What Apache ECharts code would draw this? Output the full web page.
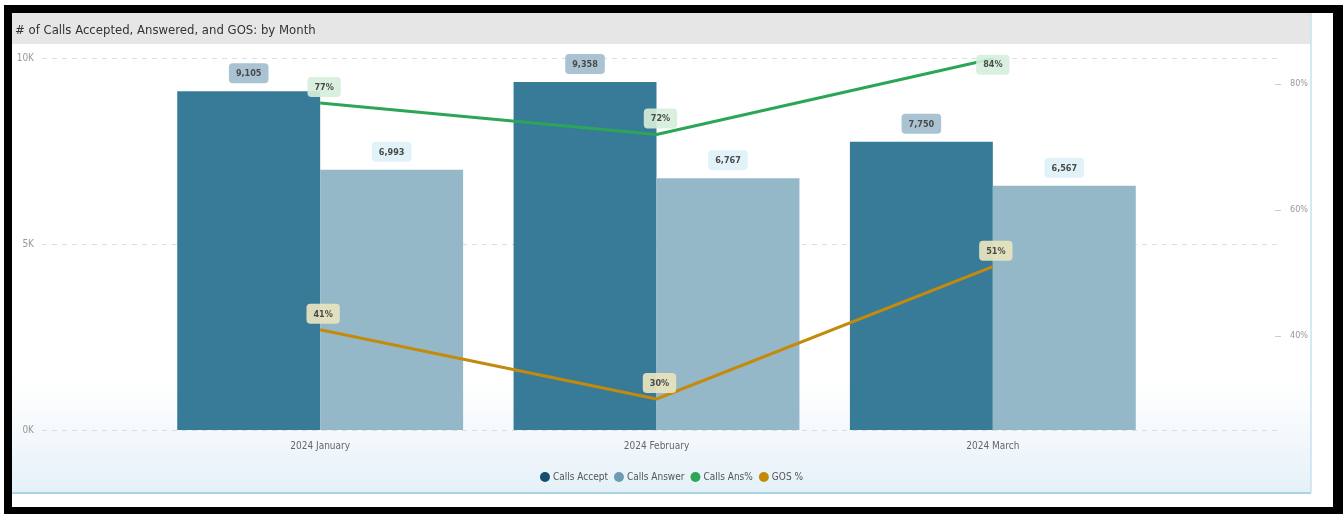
<!DOCTYPE html>
<html>
<head>
<meta charset="utf-8">
<script src="https://cdn.jsdelivr.net/npm/echarts@6/dist/echarts.min.js"></script>
<style>
html,body{margin:0;padding:0;background:#fff;}
#chart{width:1343px;height:514px;}
</style>
</head>
<body>
<div id="chart"></div>
<script>
const months = ['2024 January', '2024 February', '2024 March'];
const callsAccept = [9105, 9358, 7750];
const callsAnswer = [6993, 6767, 6567];
const callsAnsPct = [77, 72, 84];
const gosPct = [41, 30, 51];
const leftTicks = [0, 5000, 10000];
const rightTicks = [40, 60, 80];

const FONT = "'DejaVu Sans Condensed','Liberation Sans Narrow','Roboto',sans-serif";
const PCT_MIN = 25.08, PCT_MAX = 84.13;

const chart = echarts.init(document.getElementById('chart'), null, {renderer: 'canvas'});

const fmtNum = v => v.toLocaleString('en-US');
const boxLabel = (bg) => ({
  show: true, fontFamily: FONT, fontSize: 9, fontWeight: 'bold', color: '#4a4a4a',
  backgroundColor: bg, borderRadius: 4, padding: [6, 7, 5, 7]
});

const option = {
  animation: false,
  backgroundColor: '#ffffff',
  textStyle: {fontFamily: FONT},
  title: {
    text: '# of Calls Accepted, Answered, and GOS: by Month',
    left: 10, top: 19,
    textStyle: {fontFamily: FONT, fontSize: 13, fontWeight: 'normal', color: '#333'}
  },
  graphic: [
    {type: 'rect', z: -10, shape: {x: 4, y: 5, width: 1339, height: 509}, style: {fill: '#000'}},
    {type: 'rect', z: -9, shape: {x: 12, y: 13, width: 1321, height: 494}, style: {fill: '#fff'}},
    {type: 'rect', z: -8, shape: {x: 12, y: 380, width: 1299, height: 113},
      style: {fill: {type: 'linear', x: 0, y: 0, x2: 0, y2: 1, colorStops: [
        {offset: 0, color: 'rgba(234,243,249,0)'}, {offset: 1, color: 'rgba(228,240,248,1)'}]}}},
    {type: 'rect', z: -7, shape: {x: 12, y: 13, width: 1299, height: 31}, style: {fill: '#e6e6e6'}},
    {type: 'line', z: -7, shape: {x1: 12, y1: 493, x2: 1311, y2: 493}, style: {stroke: '#a9d3e6', lineWidth: 2}},
    {type: 'line', z: -7, shape: {x1: 1311, y1: 13, x2: 1311, y2: 493}, style: {stroke: '#c4e2ef', lineWidth: 1.5}}
  ],
  legend: {
    top: 467, left: 'center',
    icon: 'circle', itemWidth: 10, itemHeight: 11, itemGap: 6,
    textStyle: {fontFamily: FONT, fontSize: 10, color: '#555', padding: [0, 0, 0, -2]},
    data: [
      {name: 'Calls Accept', itemStyle: {color: '#134f70'}},
      {name: 'Calls Answer', itemStyle: {color: '#6b9cb4'}},
      {name: 'Calls Ans%', itemStyle: {color: '#2ba658'}},
      {name: 'GOS %', itemStyle: {color: '#c48a0c'}}
    ]
  },
  grid: [
    {left: 42, right: 62, top: 58, bottom: 84},
    {left: 152, right: 182, top: 58, bottom: 84}
  ],
  xAxis: [
    {gridIndex: 0, type: 'category', data: [''], show: false},
    {gridIndex: 1, type: 'category', data: months,
      axisLine: {show: false}, axisTick: {show: false},
      axisLabel: {fontFamily: FONT, fontSize: 10, color: '#666', margin: 11}}
  ],
  yAxis: [
    {gridIndex: 0, type: 'value', position: 'left', min: leftTicks[0], max: leftTicks[leftTicks.length - 1], interval: 5000,
      axisLine: {show: false}, axisTick: {show: false},
      axisLabel: {fontFamily: FONT, fontSize: 10, color: '#999', margin: 8, formatter: v => (v / 1000) + 'K'},
      splitLine: {show: true, lineStyle: {type: [5, 5], color: '#dddddd', width: 1}}},
    {gridIndex: 0, type: 'value', position: 'right', min: PCT_MIN, max: PCT_MAX,
      axisLine: {show: false},
      axisTick: {show: true, inside: true, length: 6, customValues: rightTicks, lineStyle: {color: '#cccccc'}},
      axisLabel: {fontFamily: FONT, fontSize: 9, color: '#999', margin: 9, customValues: rightTicks,
        formatter: v => (Math.abs(v % 20) < 1e-6 ? v + '%' : '')},
      splitLine: {show: false}},
    {gridIndex: 1, type: 'value', min: leftTicks[0], max: leftTicks[leftTicks.length - 1], show: false, splitLine: {show: false}},
    {gridIndex: 1, type: 'value', min: PCT_MIN, max: PCT_MAX, show: false, splitLine: {show: false}}
  ],
  series: [
    {name: 'Calls Accept', type: 'bar', xAxisIndex: 1, yAxisIndex: 2, data: callsAccept,
      barGap: '0%', barCategoryGap: '15%',
      itemStyle: {color: '#387b98'},
      label: Object.assign(boxLabel('#a9c3d3'), {position: 'top', distance: 8, formatter: p => fmtNum(p.value)})},
    {name: 'Calls Answer', type: 'bar', xAxisIndex: 1, yAxisIndex: 2, data: callsAnswer,
      barGap: '0%', barCategoryGap: '15%',
      itemStyle: {color: '#95b8c9'},
      label: Object.assign(boxLabel('#e1f2f9'), {position: 'top', distance: 8, formatter: p => fmtNum(p.value)})},
    {name: 'Calls Ans%', type: 'line', xAxisIndex: 1, yAxisIndex: 3,
      data: callsAnsPct.map((v, i) => i === callsAnsPct.length - 1
        ? {value: v, label: {position: 'inside', offset: [0, 6]}} : v),
      symbol: 'circle', symbolSize: 0, showSymbol: true, z: 5,
      lineStyle: {color: '#2ba658', width: 3}, itemStyle: {color: '#2ba658'},
      label: Object.assign(boxLabel('rgba(214,238,218,0.9)'), {position: 'top', distance: 6, offset: [4, 0], formatter: p => p.value + '%'})},
    {name: 'GOS %', type: 'line', xAxisIndex: 1, yAxisIndex: 3, data: gosPct,
      symbol: 'circle', symbolSize: 0, showSymbol: true, z: 5,
      lineStyle: {color: '#c48a0c', width: 3}, itemStyle: {color: '#c48a0c'},
      label: Object.assign(boxLabel('rgba(232,228,190,0.92)'), {position: 'top', distance: 6, offset: [3, 0], formatter: p => p.value + '%'})}
  ]
};
chart.setOption(option);
</script>
</body>
</html>
